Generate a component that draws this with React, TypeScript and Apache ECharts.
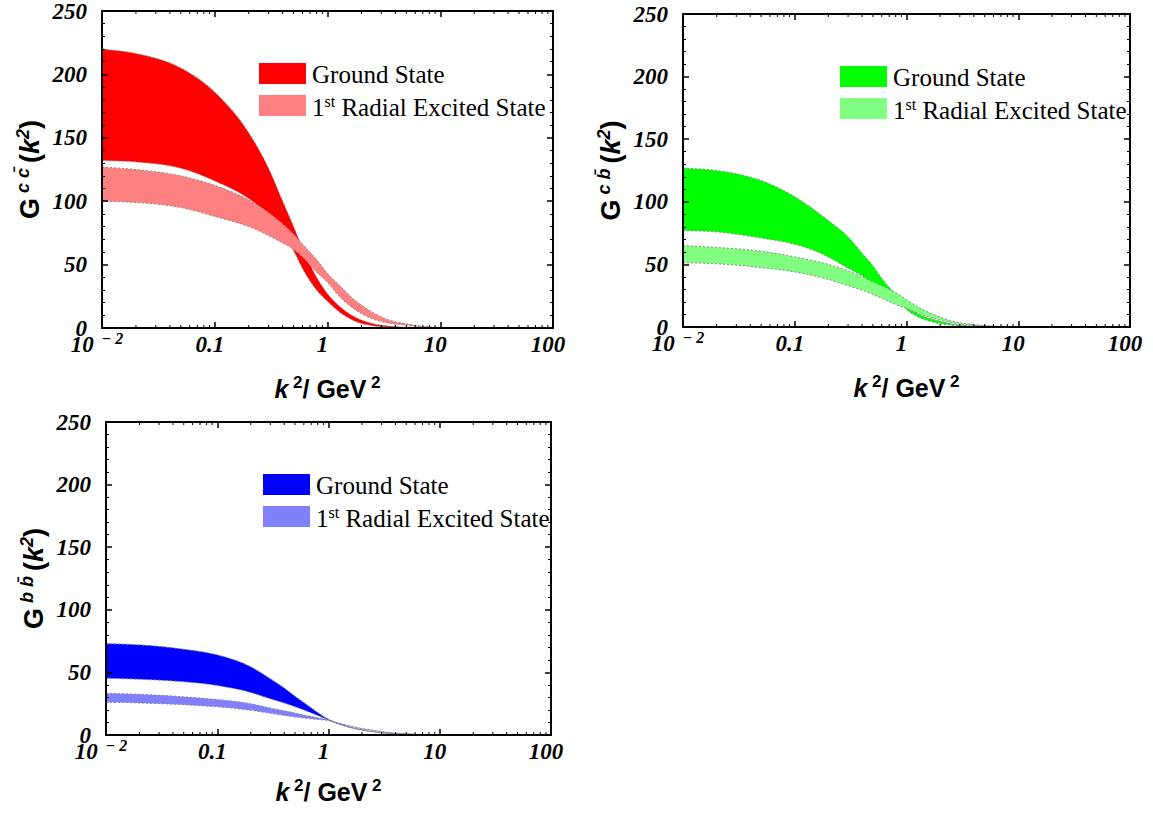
import React, { useEffect, useRef } from "react";
import * as echarts from "echarts";

// k^2 sample points (GeV^2)
const K2 = [0.01, 0.02, 0.05, 0.1, 0.2, 0.3, 0.4, 0.5, 0.6, 0.8, 1.0, 1.3, 1.8, 2.5, 3.5, 5, 7, 10, 20, 100];

// c c-bar
const CC_GROUND_UPPER = [220, 216.5, 205, 186, 154, 126, 100, 80, 63, 40, 27, 16.5, 8, 3.5, 1.5, 0.6, 0.2, 0.1, 0, 0];
const CC_GROUND_LOWER = [132, 131, 126, 116, 102, 89, 74, 61, 47, 30, 21, 12, 5, 1.8, 0.6, 0.2, 0.05, 0, 0, 0];
const CC_EXC_UPPER = [127, 125, 120, 112.5, 101, 91, 82, 74, 66, 54, 43, 33, 21, 12.5, 6.3, 3.3, 1.3, 0.4, 0.05, 0];
const CC_EXC_LOWER = [100, 99, 95, 88, 80, 73, 67, 62, 56, 44, 36, 24, 13.8, 7.2, 3.8, 2.2, 0.8, 0.3, 0, 0];

// c b-bar
const CB_GROUND_UPPER = [127, 125, 117, 104, 85, 72, 59, 49, 39, 26, 17, 10, 5.5, 2.5, 1, 0.4, 0.1, 0, 0, 0];
const CB_GROUND_LOWER = [77, 76, 71, 66, 56, 47, 41, 35, 30, 22, 14, 7.5, 3.5, 1.5, 0.6, 0.2, 0.05, 0, 0, 0];
const CB_EXC_UPPER = [65, 63.5, 60.5, 56, 50, 45, 40, 36, 33, 27.5, 22, 15.5, 9.5, 5, 2.5, 1.2, 0.5, 0.2, 0, 0];
const CB_EXC_LOWER = [51.5, 50.5, 47.5, 44, 38, 33, 29.5, 26, 23, 18, 15, 10.5, 6.5, 3.5, 1.7, 0.8, 0.3, 0.1, 0, 0];

// b b-bar
const BB_GROUND_UPPER = [73, 72, 68.5, 64, 54.5, 45, 37.5, 31, 26, 18, 12.5, 8.5, 5, 2.8, 1.3, 0.6, 0.2, 0.1, 0, 0];
const BB_GROUND_LOWER = [45.3, 44.5, 42.5, 39.5, 34, 29, 25.5, 22.5, 20, 15.5, 11.8, 8, 4.6, 2.5, 1.1, 0.5, 0.15, 0.05, 0, 0];
const BB_EXC_UPPER = [33.3, 32.5, 30.5, 28.3, 25, 21.5, 19.3, 17.5, 15.9, 13.8, 12, 9, 6, 3.8, 2, 0.9, 0.4, 0.15, 0, 0];
const BB_EXC_LOWER = [26.1, 25.6, 24.2, 22.5, 19.7, 17.3, 15.6, 14.4, 13.5, 12.4, 11.5, 8.8, 5.7, 3.5, 1.8, 0.8, 0.3, 0.1, 0, 0];

// axis ticks
const Y_MIN = 0;
const Y_MAX = 250;
const Y_INTERVAL = 50;
const X_MIN = 0.01;
const X_MAX = 100;
const MINOR_X = [
  0.02, 0.03, 0.04, 0.05, 0.06, 0.07, 0.08, 0.09,
  0.2, 0.3, 0.4, 0.5, 0.6, 0.7, 0.8, 0.9,
  2, 3, 4, 5, 6, 7, 8, 9,
  20, 30, 40, 50, 60, 70, 80, 90,
];

const LEGEND_GROUND = "Ground State";
const LEGEND_EXC = "{n|1}{s|st}{n| Radial Excited State}";

const PANELS = [
  {
    grid: { left: 102, top: 11, width: 451, height: 317 },
    q1: "c", q2: "c\u0304",
    colors: ["#ff0000", "#ff8080"],
    gu: CC_GROUND_UPPER, gl: CC_GROUND_LOWER, eu: CC_EXC_UPPER, el: CC_EXC_LOWER,
    xTitleDy: 61,
  },
  {
    grid: { left: 683, top: 14, width: 447, height: 313 },
    q1: "c", q2: "b\u0304",
    colors: ["#00ff00", "#80ff80"],
    gu: CB_GROUND_UPPER, gl: CB_GROUND_LOWER, eu: CB_EXC_UPPER, el: CB_EXC_LOWER,
    xTitleDy: 61,
  },
  {
    grid: { left: 106, top: 422, width: 445, height: 313 },
    q1: "b", q2: "b\u0304",
    colors: ["#0000ff", "#8080ff"],
    gu: BB_GROUND_UPPER, gl: BB_GROUND_LOWER, eu: BB_EXC_UPPER, el: BB_EXC_LOWER,
    xTitleDy: 57,
  },
];

const SERIF = "'Liberation Serif', 'Times New Roman', serif";
const SANS = "'Liberation Sans', Arial, sans-serif";

// smooth cubic path segments through pixel points (three-point tangents, limited against overshoot)
function smoothSegments(pts: number[][]): string {
  const n = pts.length;
  if (n < 2) return "";
  const h: number[] = [];
  const m: number[] = [];
  for (let i = 0; i < n - 1; i++) {
    const dx = pts[i + 1][0] - pts[i][0];
    h.push(dx);
    m.push(dx === 0 ? 0 : (pts[i + 1][1] - pts[i][1]) / dx);
  }
  const t: number[] = new Array(n);
  t[0] = m[0];
  t[n - 1] = m[n - 2];
  for (let i = 1; i < n - 1; i++) {
    if (m[i - 1] * m[i] <= 0) {
      t[i] = 0;
    } else {
      let v = (m[i - 1] * h[i] + m[i] * h[i - 1]) / (h[i - 1] + h[i]);
      const lim = 3 * Math.min(Math.abs(m[i - 1]), Math.abs(m[i]));
      if (Math.abs(v) > lim) v = Math.sign(v) * lim;
      t[i] = v;
    }
  }
  let d = "";
  for (let i = 0; i < n - 1; i++) {
    const dx = h[i];
    const c1x = pts[i][0] + dx / 3;
    const c1y = pts[i][1] + (t[i] * dx) / 3;
    const c2x = pts[i + 1][0] - dx / 3;
    const c2y = pts[i + 1][1] - (t[i + 1] * dx) / 3;
    d += ` C ${c1x.toFixed(2)} ${c1y.toFixed(2)} ${c2x.toFixed(2)} ${c2y.toFixed(2)} ${pts[i + 1][0].toFixed(2)} ${pts[i + 1][1].toFixed(2)}`;
  }
  return d;
}

function bandSeries(xi: number, yi: number, upper: number[], lower: number[], color: string) {
  return {
    type: "custom",
    xAxisIndex: xi,
    yAxisIndex: yi,
    silent: true,
    z: 2,
    data: [[X_MIN, Y_MIN]],
    encode: { x: 0, y: 1 },
    renderItem: (params: any, api: any) => {
      const up = K2.map((x, j) => api.coord([x, upper[j]]));
      const lo = K2.map((x, j) => api.coord([x, lower[j]]));
      const loR = lo.slice().reverse();
      const mv = (p: number[]) => `${p[0].toFixed(2)} ${p[1].toFixed(2)}`;
      const fillD = `M ${mv(up[0])}${smoothSegments(up)} L ${mv(loR[0])}${smoothSegments(loR)} Z`;
      const upD = `M ${mv(up[0])}${smoothSegments(up)}`;
      const loD = `M ${mv(lo[0])}${smoothSegments(lo)}`;
      const edge = { fill: "none", stroke: "#8a8a8a", lineWidth: 1, lineDash: [2, 2] };
      return {
        type: "group",
        children: [
          { type: "path", shape: { pathData: fillD }, style: { fill: color, stroke: "none" } },
          { type: "path", shape: { pathData: upD }, style: edge },
          { type: "path", shape: { pathData: loD }, style: edge },
        ],
      };
    },
  };
}

function buildOption() {
  const grids: any[] = [];
  const xAxes: any[] = [];
  const yAxes: any[] = [];
  const series: any[] = [];
  const graphics: any[] = [];

  const tickFont = { fontFamily: SERIF, fontWeight: "bold", fontStyle: "italic", color: "#000" };

  PANELS.forEach((p, i) => {
    grids.push({ ...p.grid, containLabel: false, outerBoundsMode: "none" });
    const common = {
      gridIndex: i,
      type: "log",
      logBase: 10,
      min: X_MIN,
      max: X_MAX,
      z: 5,
      splitLine: { show: false },
      axisLine: { show: true, onZero: false, lineStyle: { color: "#000", width: 2 } },
      axisTick: { show: true, inside: true, length: 6, lineStyle: { color: "#000", width: 1.5 } },
    };
    xAxes.push({
      ...common,
      position: "bottom",
      axisLabel: {
        show: true,
        margin: 7,
        padding: [0, 10, 0, 0],
        color: "#000",
        formatter: (v: number) => {
          if (Math.abs(v - 0.01) < 1e-9) return "{c|10}{e|\u2212 2}";
          const s = v < 1 ? String(+v.toPrecision(2)) : String(Math.round(v));
          return "{b|" + s + "}";
        },
        rich: {
          // every label is 31px tall with its main digits centred at 15.5px
          b: { ...tickFont, fontSize: 23, lineHeight: 19, padding: [6, 0, 6, 0] },
          c: { ...tickFont, fontSize: 23, lineHeight: 19 },
          // exponent: content centred 6px above the digits
          e: { ...tickFont, fontSize: 16, lineHeight: 19, padding: [0, 0, 12, 8] },
        },
      },
    });
    xAxes.push({ ...common, position: "top", axisLabel: { show: false } });

    const yCommon = {
      gridIndex: i,
      type: "value",
      min: Y_MIN,
      max: Y_MAX,
      interval: Y_INTERVAL,
      z: 5,
      splitLine: { show: false },
      axisLine: { show: true, onZero: false, lineStyle: { color: "#000", width: 2 } },
      axisTick: { show: true, inside: true, length: 6, lineStyle: { color: "#000", width: 1.5 } },
      minorTick: { show: true, splitNumber: 5, length: 3, lineStyle: { color: "#000", width: 1 } },
      minorSplitLine: { show: false },
    };
    yAxes.push({
      ...yCommon,
      position: "left",
      axisLabel: {
        show: true,
        margin: 15,
        color: "#000",
        fontFamily: SERIF,
        fontWeight: "bold",
        fontStyle: "italic",
        fontSize: 23,
        lineHeight: 16,
      },
    });
    yAxes.push({ ...yCommon, position: "right", axisLabel: { show: false } });

    const xi = 2 * i;
    const yi = 2 * i;
    series.push(bandSeries(xi, yi, p.gu, p.gl, p.colors[0]));
    series.push(bandSeries(xi, yi, p.eu, p.el, p.colors[1]));

    // minor log ticks on bottom and top frame
    series.push({
      type: "custom",
      xAxisIndex: xi,
      yAxisIndex: yi,
      silent: true,
      z: 10,
      data: MINOR_X.map((v) => [v, 0]),
      encode: { x: 0, y: 1 },
      renderItem: (params: any, api: any) => {
        const v = api.value(0);
        const b = api.coord([v, Y_MIN]);
        const t = api.coord([v, Y_MAX]);
        return {
          type: "group",
          children: [
            { type: "line", shape: { x1: b[0], y1: b[1], x2: b[0], y2: b[1] - 3 }, style: { stroke: "#000", lineWidth: 1 } },
            { type: "line", shape: { x1: t[0], y1: t[1], x2: t[0], y2: t[1] + 3 }, style: { stroke: "#000", lineWidth: 1 } },
          ],
        };
      },
    });

    const g = p.grid;
    // legend
    const lx = g.left + 157;
    const ly = g.top + 52;
    graphics.push({ type: "rect", left: lx, top: ly, shape: { width: 47, height: 21 }, style: { fill: p.colors[0] } });
    graphics.push({ type: "rect", left: lx, top: ly + 32, shape: { width: 47, height: 21 }, style: { fill: p.colors[1] } });
    graphics.push({
      type: "text",
      x: lx + 53,
      y: ly + 11,
      style: { text: LEGEND_GROUND, fill: "#000", font: "25px " + SERIF, verticalAlign: "middle", align: "left" },
    });
    graphics.push({
      type: "text",
      x: lx + 53,
      y: ly + 44,
      style: {
        text: LEGEND_EXC,
        verticalAlign: "middle",
        align: "left",
        rich: {
          n: { fontFamily: SERIF, fontSize: 25, lineHeight: 28, fill: "#000", color: "#000" },
          s: { fontFamily: SERIF, fontSize: 16, verticalAlign: "top", lineHeight: 15, fill: "#000", color: "#000" },
        },
      },
    });

    // x title
    graphics.push({
      type: "text",
      x: g.left + g.width / 2,
      y: g.top + g.height + p.xTitleDy,
      style: {
        text: "{k|k}{s| 2}{n|/ GeV}{s| 2}",
        align: "center",
        verticalAlign: "middle",
        rich: {
          k: { fontFamily: SANS, fontWeight: "bold", fontStyle: "italic", fontSize: 25, lineHeight: 30, color: "#000" },
          n: { fontFamily: SANS, fontWeight: "bold", fontSize: 25, lineHeight: 30, color: "#000" },
          s: { fontFamily: SANS, fontWeight: "bold", fontSize: 17, lineHeight: 16, verticalAlign: "top", color: "#000" },
        },
      },
    });

    // y title
    graphics.push({
      type: "text",
      x: g.left - 72,
      y: g.top + g.height / 2,
      rotation: Math.PI / 2,
      style: {
        text: "{g|G}{s| " + p.q1 + " " + p.q2 + " }{n|(}{k|k}{s|2}{n|)}",
        align: "center",
        verticalAlign: "middle",
        rich: {
          g: { fontFamily: SANS, fontWeight: "bold", fontSize: 27, lineHeight: 32, color: "#000" },
          n: { fontFamily: SANS, fontWeight: "bold", fontSize: 27, lineHeight: 32, color: "#000" },
          k: { fontFamily: SANS, fontWeight: "bold", fontStyle: "italic", fontSize: 27, lineHeight: 32, color: "#000" },
          s: { fontFamily: SANS, fontWeight: "bold", fontStyle: "italic", fontSize: 18, lineHeight: 18, verticalAlign: "top", color: "#000" },
        },
      },
    });
  });

  return {
    animation: false,
    backgroundColor: "#ffffff",
    grid: grids,
    xAxis: xAxes,
    yAxis: yAxes,
    series,
    graphic: graphics,
  };
}

export default function App() {
  const ref = useRef<HTMLDivElement>(null);
  useEffect(() => {
    if (!ref.current) return;
    const chart = echarts.init(ref.current, undefined, { renderer: "svg" });
    chart.setOption(buildOption() as any);
    return () => chart.dispose();
  }, []);
  return (
    <div
      ref={ref}
      style={{ position: "absolute", left: 0, top: 0, width: 1153, height: 814, background: "#fff" }}
    />
  );
}
